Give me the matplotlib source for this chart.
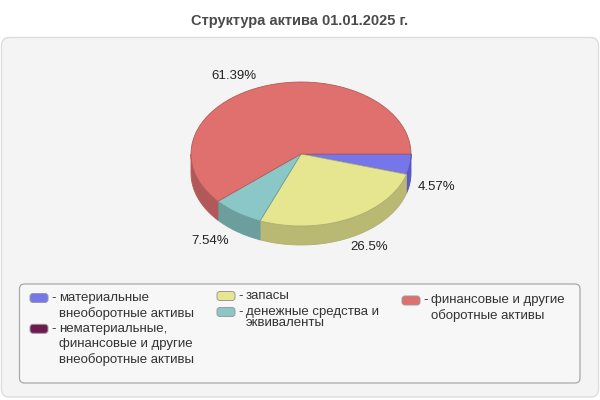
import numpy as np
import matplotlib
matplotlib.use('Agg')
import matplotlib.pyplot as plt
from matplotlib.patches import Polygon, FancyBboxPatch

plt.rcParams['font.family'] = ['Liberation Sans', 'DejaVu Sans']

# Данные
title = 'Структура актива 01.01.2025 г.'
labels = ['материальные\nвнеоборотные активы',
          'нематериальные,\nфинансовые и другие\nвнеоборотные активы',
          'запасы',
          'денежные средства и\nэквиваленты',
          'финансовые и другие\nоборотные активы']
values = [4.57, 0.0, 26.5, 7.54, 61.39]
value_text = ['4.57%', '', '26.5%', '7.54%', '61.39%']
colors = ['#7676ea', '#6e1a4e', '#e6e690', '#8cc7c7', '#df706e']
side_colors = ['#5a5ac4', '#50123a', '#bab974', '#6d9e9e', '#b35858']
edge_colors = ['#5656b8', '#4a1034', '#b0b070', '#68a0a0', '#b55a5a']

# Геометрия (в пикселях)
W, H = 600, 400
cx, cy = 301, 154
ra, rb = 110, 72
depth = 19

fig = plt.figure(figsize=(6, 4), dpi=100)
fig.patch.set_facecolor('white')
ax = fig.add_axes([0, 0, 1, 1])
ax.set_xlim(0, W)
ax.set_ylim(H, 0)
ax.axis('off')

# Фон панели
ax.add_patch(FancyBboxPatch((1.5, 37.5), 597, 359.5, boxstyle='round,pad=0,rounding_size=8',
                            fc='#f4f4f4', ec='#dddddd', lw=1))
ax.text(W / 2, 21, title, ha='center', va='center', fontsize=10.5,
        fontweight='bold', color='#4a4a4a')


def arc(t0, t1, dy=0, n=60):
    t = np.radians(np.linspace(t0, t1, n))
    return np.column_stack([cx + ra * np.cos(t), cy + rb * np.sin(t) + dy])


total = sum(values)
angles = np.concatenate([[0], np.cumsum(values) / total * 360])

# Боковые стенки (видна только передняя половина)
for i in range(len(values)):
    t0, t1 = angles[i], angles[i + 1]
    s0, s1 = max(t0, 0), min(t1, 180)
    if s1 - s0 <= 0:
        continue
    top = arc(s0, s1)
    bot = arc(s1, s0, dy=depth)
    ax.add_patch(Polygon(np.vstack([top, bot]), closed=True, fc=side_colors[i],
                         ec=edge_colors[i], lw=0.6))

# Верхние сектора
for i in range(len(values)):
    t0, t1 = angles[i], angles[i + 1]
    if t1 - t0 <= 0:
        continue
    pts = np.vstack([[cx, cy], arc(t0, t1)])
    ax.add_patch(Polygon(pts, closed=True, fc=colors[i], ec=edge_colors[i], lw=0.6))

# Подписи процентов
for i in range(len(values)):
    if values[i] <= 0:
        continue
    mid = np.radians((angles[i] + angles[i + 1]) / 2)
    x = cx + ra * 1.1 * np.cos(mid)
    y = cy + rb * 1.1 * np.sin(mid)
    if np.sin(mid) > 0:
        y += depth + 3
    else:
        y -= 4
    ha = 'left' if np.cos(mid) > 0 else 'right'
    x += -3 if ha == 'left' else -2
    ax.text(x, y, value_text[i], ha=ha, va='center', fontsize=9.5, color='#222222')

# Легенда
ax.add_patch(FancyBboxPatch((19.5, 284), 560.5, 99, boxstyle='round,pad=0,rounding_size=5',
                            fc='#f7f7f7', ec='#a8a8a8', lw=0.9))
columns = [[0, 1], [2, 3], [4]]
col_x = [30, 217, 402]
col_y0 = [298, 296, 300.5]
col_line = [15.4, 11.5, 15.4]
col_extra = [0, 4.5, 0]
for c, items in enumerate(columns):
    y = col_y0[c]
    for i in items:
        ax.add_patch(FancyBboxPatch((col_x[c], y - 4.5), 18, 9,
                                    boxstyle='round,pad=0,rounding_size=3',
                                    fc=colors[i], ec='#9a9a9a', lw=0.7))
        lines = labels[i].split('\n')
        ax.text(col_x[c] + 21.5, y, '-', ha='left', va='center', fontsize=9.5, color='#333333')
        for k, ln in enumerate(lines):
            ax.text(col_x[c] + 29, y + k * col_line[c], ln, ha='left', va='center',
                    fontsize=9.5, color='#333333')
        y += len(lines) * col_line[c] + col_extra[c]

fig.savefig('out.png', dpi=100, facecolor='white')
